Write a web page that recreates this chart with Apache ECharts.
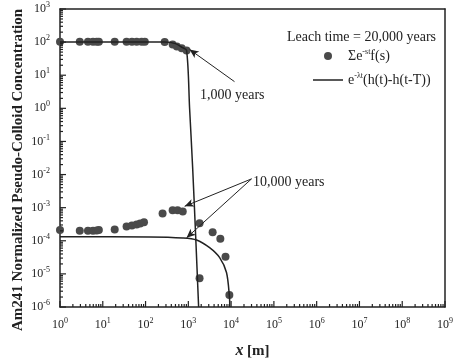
<!DOCTYPE html>
<html>
<head>
<meta charset="utf-8">
<script src="https://cdn.jsdelivr.net/npm/echarts@6/dist/echarts.min.js"></script>
<style>
  html, body { margin: 0; padding: 0; background: #fff; }
  #chart { width: 456px; height: 364px; }
</style>
</head>
<body>
<div id="chart"></div>
<script>
// scatter: sum of e^-st f(s)
const dots1kX = [1, 2.9, 4.5, 5.9, 7.2, 8.1, 19, 36, 48, 62, 81, 96, 280, 430, 540, 700, 910];
const dots1kY = [102, 102, 102, 102, 102, 102, 102, 102, 102, 102, 102, 102, 100, 85, 74, 65, 56];
const dots10kX = [1, 2.9, 4.5, 5.9, 7.2, 8.1, 19, 36, 48, 62, 75, 92, 250, 430, 560, 740, 1830, 3700, 5600, 7400, 1830, 9100];
const dots10kY = [2.1e-4, 2.0e-4, 2.0e-4, 2.0e-4, 2.05e-4, 2.1e-4, 2.2e-4, 2.7e-4, 2.9e-4, 3.1e-4, 3.3e-4, 3.6e-4,
  6.7e-4, 8.3e-4, 8.3e-4, 7.6e-4, 3.4e-4, 1.8e-4, 1.15e-4, 3.3e-5, 7.4e-6, 2.3e-6];

// curves: e^-lt (h(t)-h(t-T))
const curve1kX = [1, 100, 280, 500, 700, 910, 1070, 1260, 1500, 1740];
const curve1kY = [100, 100, 100, 90, 70, 56, 1, 0.0166, 1e-4, 1e-6];
const curve10kX = [1, 126, 740, 1560, 3140, 5400, 7800, 9150, 9300];
const curve10kY = [1.33e-4, 1.31e-4, 1.22e-4, 1.06e-4, 6.2e-5, 3.1e-5, 1.1e-5, 2.0e-6, 1e-6];

// decade ticks
const xTicks = [1, 1e1, 1e2, 1e3, 1e4, 1e5, 1e6, 1e7, 1e8, 1e9];
const yTicks = [1e-6, 1e-5, 1e-4, 1e-3, 1e-2, 1e-1, 1, 1e1, 1e2, 1e3];

const xMin = 1, xMax = 1e9;
const yMin = 1e-6, yMax = 1e3;

// minor tick positions 2..9 per decade
function minorTicks(lo, hi) {
  const out = [];
  for (let d = lo; d < hi; d++) {
    for (let m = 2; m <= 9; m++) out.push(m * Math.pow(10, d));
  }
  return out;
}

const serif = '"Liberation Serif", "DejaVu Serif", serif';
const ink = '#222';
const zip = (xs, ys) => xs.map((x, i) => [x, ys[i]]);

const supRich = {
  b: { fontFamily: serif, fontSize: 12, color: ink },
  s: { fontFamily: serif, fontSize: 8, color: ink, padding: [0, 0, 8, 0] }
};
function powLabel(v) {
  const e = Math.round(Math.log10(v));
  return '{b|10}{s|' + e + '}';
}

// bare axis used for the frame
function bareAxis(pos, min, max, extra) {
  return Object.assign({
    type: 'log', min: min, max: max, position: pos,
    axisLine: { show: true, lineStyle: { color: ink, width: 1.5 } },
    axisTick: { show: false },
    axisLabel: { show: false },
    splitLine: { show: false }
  }, extra || {});
}

// inward tick marks drawn through the axes' own scales
function xTickSeries(values, len) {
  return {
    type: 'custom', silent: true, z: 5, clip: false,
    data: values.map(v => [v, yMin]),
    renderItem: function (params, api) {
      const p = api.coord([api.value(0), yMin]);
      return { type: 'line', shape: { x1: p[0], y1: p[1], x2: p[0], y2: p[1] - len },
        style: { stroke: ink, lineWidth: 1.2 } };
    }
  };
}
function yTickSeries(values, len) {
  return {
    type: 'custom', silent: true, z: 5, clip: false,
    data: values.map(v => [xMin, v]),
    renderItem: function (params, api) {
      const p = api.coord([xMin, api.value(1)]);
      return { type: 'line', shape: { x1: p[0], y1: p[1], x2: p[0] + len, y2: p[1] },
        style: { stroke: ink, lineWidth: 1.2 } };
    }
  };
}

const chart = echarts.init(document.getElementById('chart'));

const option = {
  animation: false,
  backgroundColor: '#fff',
  title: {
    text: 'Leach time = 20,000 years',
    left: 282,
    top: 25,
    textStyle: { fontFamily: serif, fontSize: 14, fontWeight: 'normal', color: ink }
  },
  legend: {
    orient: 'vertical',
    left: 308,
    top: 43,
    itemWidth: 30,
    itemHeight: 8,
    itemGap: 9,
    data: [
      { name: 'sum', icon: 'circle' },
      { name: 'exp', icon: 'path://M0,0 L30,0 L30,1.5 L0,1.5 Z' }
    ],
    formatter: function (name) {
      if (name === 'sum') return '{t|Σe}{s|-st}{t|f(s)}';
      return '{t|e}{s|-λt}{t|(h(t)-h(t-T))}';
    },
    textStyle: {
      rich: {
        t: { fontFamily: serif, fontSize: 14, color: ink },
        s: { fontFamily: serif, fontSize: 8, color: ink, padding: [0, 0, 8, 0] }
      }
    }
  },
  grid: { left: 60, right: 10, top: 9, bottom: 52 },
  xAxis: [
    bareAxis('bottom', xMin, xMax, {
      interval: 1,
      axisLabel: { show: true, formatter: powLabel, rich: supRich, margin: 10 },
      name: '{i|x} {n|[m]}',
      nameLocation: 'middle',
      nameGap: 36,
      nameTextStyle: {
        rich: {
          i: { fontFamily: serif, fontSize: 16, fontStyle: 'italic', fontWeight: 'bold', color: ink },
          n: { fontFamily: serif, fontSize: 15, fontWeight: 'bold', color: ink }
        }
      }
    }),
    bareAxis('top', xMin, xMax)
  ],
  yAxis: [
    bareAxis('left', yMin, yMax, {
      interval: 1,
      axisLabel: { show: true, formatter: powLabel, rich: supRich, margin: 10 }
    }),
    bareAxis('right', yMin, yMax)
  ],
  series: [
    {
      name: 'exp', type: 'line', data: zip(curve1kX, curve1kY),
      symbol: 'none', showSymbol: false, smooth: 0.3,
      lineStyle: { color: ink, width: 1.5 }, itemStyle: { color: ink },
      markLine: {
        silent: true,
        symbol: ['none', 'arrow'],
        symbolSize: [6, 9],
        label: { show: false },
        lineStyle: { color: ink, width: 1, type: 'solid' },
        data: [
          [{ coord: [12000, 6.4] }, { coord: [1070, 60] }],
          [{ coord: [30000, 7.4e-3] }, { coord: [820, 1.1e-3] }],
          [{ coord: [30000, 7.4e-3] }, { coord: [910, 1.23e-4] }]
        ]
      }
    },
    {
      name: 'exp', type: 'line', data: zip(curve10kX, curve10kY),
      symbol: 'none', showSymbol: false, smooth: 0.3,
      lineStyle: { color: ink, width: 1.5 }, itemStyle: { color: ink }
    },
    {
      name: 'sum', type: 'scatter', data: zip(dots1kX, dots1kY),
      symbolSize: 8, itemStyle: { color: '#4a4a4a', opacity: 1 }
    },
    {
      name: 'sum', type: 'scatter', data: zip(dots10kX, dots10kY),
      symbolSize: 8, itemStyle: { color: '#4a4a4a', opacity: 1 }
    },
    xTickSeries(xTicks, 6),
    xTickSeries(minorTicks(0, 9), 3),
    yTickSeries(yTicks, 6),
    yTickSeries(minorTicks(-6, 3), 3)
  ],
  graphic: [
    {
      type: 'text', x: 18, y: 170, rotation: Math.PI / 2,
      style: {
        text: 'Am241 Normalized Pseudo-Colloid Concentration',
        fontFamily: serif, fontSize: 15, fontWeight: 'bold', fill: ink,
        align: 'center', verticalAlign: 'middle'
      }
    },
    {
      type: 'text', left: 200, top: 88,
      style: { text: '1,000 years', fontFamily: serif, fontSize: 14, fill: ink }
    },
    {
      type: 'text', left: 253, top: 175,
      style: { text: '10,000 years', fontFamily: serif, fontSize: 14, fill: ink }
    }
  ]
};

chart.setOption(option);
</script>
</body>
</html>
